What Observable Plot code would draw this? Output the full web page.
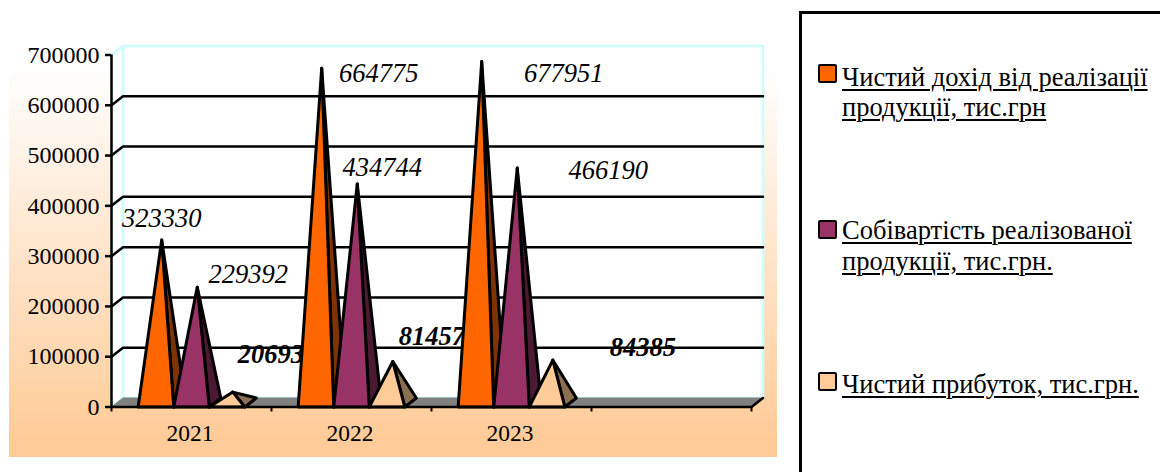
<!DOCTYPE html>
<html>
<head>
<meta charset="utf-8">
<script src="https://cdn.jsdelivr.net/npm/d3@7"></script>
<script src="https://cdn.jsdelivr.net/npm/@observablehq/plot@0.6"></script>
<style>
  html, body { margin: 0; padding: 0; background: #fff; }
  #page { position: relative; width: 1160px; height: 472px; overflow: hidden; font-family: "Liberation Serif", serif; }
  #backdrop { position: absolute; left: 9px; top: 30px; width: 768px; height: 427px;
    background: linear-gradient(to bottom, #ffffff 0%, #ffffff 8%, #ffcc99 95%, #ffcc99 100%); }
  #chart { position: absolute; left: 0; top: 0; }
  #legend { position: absolute; left: 799px; top: 11px; width: 500px; height: 600px; border: 3px solid #000; box-sizing: border-box; background: #fff; }
  .entry { position: absolute; left: 40px; font-size: 26.5px; line-height: 30.5px; color: #000; white-space: nowrap;
    text-decoration: underline; text-decoration-thickness: 2px; text-underline-offset: 3px; }
  .swatch { position: absolute; left: 16px; width: 15px; height: 15px; border: 2.5px solid #000; border-radius: 2px; }
</style>
</head>
<body>
<div id="page">
  <div id="backdrop"></div>
  <div id="chart"></div>
  <div id="legend"></div>
</div>
<script>
// Financial results by year, thousand UAH.
const years = ["2021", "2022", "2023"];
const seriesNames = [
  ["Чистий дохід від реалізації", "продукції, тис.грн"],
  ["Собівартість реалізованої", "продукції, тис.грн."],
  ["Чистий прибуток, тис.грн."]
];
const revenue = [323330, 664775, 677951];
const cost = [229392, 434744, 466190];
const profit = [20693, 81457, 84385];
const yTicks = [0, 100000, 200000, 300000, 400000, 500000, 600000, 700000];
const slotEdges = [0, 1, 2, 3, 4];

const frontColors = ["#ff6600", "#993366", "#ffcc99"];
const sideColors = ["#7f3300", "#4c1933", "#8a6f52"];

// Pixel nudges for each value label, measured from its pyramid's apex (one row per year).
const labelNudges = [
  [[0, -21], [51, -13], [38, -38]],
  [[57, 5], [25, -16], [39, -25]],
  [[82, 12], [91, 2], [90, -13]]
];

// Depth of the 3D box in scale units, plus the width of one pyramid within a year slot.
const depthX = 11.5 / 160;
const depthY = 17900;
const pyramidWidth = 1 / 4.5;
const clusterGap = 0.75 * pyramidWidth;
const maxValue = 700000;
const lastSlot = 4;

const polygon = (id, fill, stroke, points) =>
  points.map(([x, y]) => ({id, fill, stroke, x, y}));

const walls = [
  ...polygon("left", "#ffffff", "#ccffff", [[0, 0], [depthX, depthY], [depthX, maxValue + depthY], [0, maxValue]]),
  ...polygon("back", "#ffffff", "#ccffff", [[depthX, depthY], [lastSlot + depthX, depthY], [lastSlot + depthX, maxValue + depthY], [depthX, maxValue + depthY]])
];
const floor = polygon("floor", "#808080", "#808080", [[0, 0], [depthX, depthY], [lastSlot + depthX, depthY], [lastSlot, 0]]);

// Grid lines run along the side wall and then across the back wall.
const gridRows = yTicks.slice(1, -1).flatMap((v) =>
  [[0, v], [depthX, v + depthY], [lastSlot + depthX, v + depthY]].map(([x, y]) => ({id: v, x, y}))
);
const floorEdge = [[0, 0], [lastSlot, 0], [lastSlot + depthX, depthY]].map(([x, y]) => ({x, y}));

const allSeries = [revenue, cost, profit];
const faces = [];
const apexes = [];
years.forEach((year, yi) => {
  allSeries.forEach((values, si) => {
    const left = yi + clusterGap + si * pyramidWidth;
    const right = left + pyramidWidth;
    const apex = [left + pyramidWidth / 2 + depthX / 2, values[yi] + depthY / 2];
    faces.push(...polygon(`${year}-${si}-side`, sideColors[si], "#000", [[right, 0], [right + depthX, depthY], apex]));
    faces.push(...polygon(`${year}-${si}-front`, frontColors[si], "#000", [[left, 0], [right, 0], apex]));
    apexes.push({value: values[yi], x: apex[0], y: apex[1], bold: si === 2, nudge: labelNudges[yi][si]});
  });
});

const chart = Plot.plot({
  width: 800,
  height: 472,
  marginLeft: 111,
  marginRight: 49,
  marginTop: 54.5,
  marginBottom: 65.5,
  x: {domain: [0, lastSlot], axis: null},
  y: {domain: [0, maxValue], axis: null},
  style: {background: "transparent", fontFamily: "Liberation Serif", color: "#000", overflow: "visible"},
  marks: [
    Plot.line(walls, {x: "x", y: "y", z: "id", fill: "fill", stroke: "stroke", strokeWidth: 2.5, curve: "linear-closed", strokeLinejoin: "miter"}),
    Plot.line(floor, {x: "x", y: "y", z: "id", fill: "fill", stroke: "stroke", strokeWidth: 1, curve: "linear-closed"}),
    Plot.line(gridRows, {x: "x", y: "y", z: "id", stroke: "#000", strokeWidth: 2.5, strokeLinejoin: "miter"}),
    ...apexes.map((d) =>
      Plot.text([d], {
        x: "x", y: "y", text: (r) => String(r.value),
        dx: d.nudge[0], dy: d.nudge[1],
        fontSize: 26.5, fontStyle: "italic", fontWeight: d.bold ? "bold" : "normal",
        fill: "#000", lineAnchor: "middle"
      })
    ),
    Plot.line(faces, {x: "x", y: "y", z: "id", fill: "fill", stroke: "#000", strokeWidth: 3, curve: "linear-closed"}),
    Plot.line(floorEdge, {x: "x", y: "y", stroke: "#000", strokeWidth: 2.5}),
    Plot.ruleX([0], {y1: 0, y2: maxValue, stroke: "#000", strokeWidth: 2.5}),
    Plot.axisY(yTicks, {anchor: "left", label: null, tickSize: 6, tickPadding: 6, fontSize: 24, strokeWidth: 2.5, tickFormat: (d) => String(d)}),
    Plot.axisX(slotEdges, {anchor: "bottom", label: null, tickSize: 5, strokeWidth: 2, tickFormat: () => ""}),
    Plot.axisX(years.map((_, i) => i + 0.5), {anchor: "bottom", label: null, tickSize: 0, tickPadding: 17, dx: -1.5, fontSize: 23.5, tickFormat: (d) => years[d - 0.5]})
  ]
});
document.getElementById("chart").append(chart);

// The legend sits in its own bordered panel beside the plot.
const legendTops = [[48, 77.5], [201, 231.5], [355]];
const swatchTops = [50, 206, 358];
const legend = document.getElementById("legend");
seriesNames.forEach((lines, si) => {
  const swatch = document.createElement("div");
  swatch.className = "swatch";
  swatch.style.top = swatchTops[si] + "px";
  swatch.style.background = frontColors[si];
  legend.append(swatch);
  lines.forEach((line, li) => {
    const el = document.createElement("div");
    el.className = "entry";
    el.style.top = legendTops[si][li] + "px";
    el.textContent = line;
    legend.append(el);
  });
});
</script>
</body>
</html>
